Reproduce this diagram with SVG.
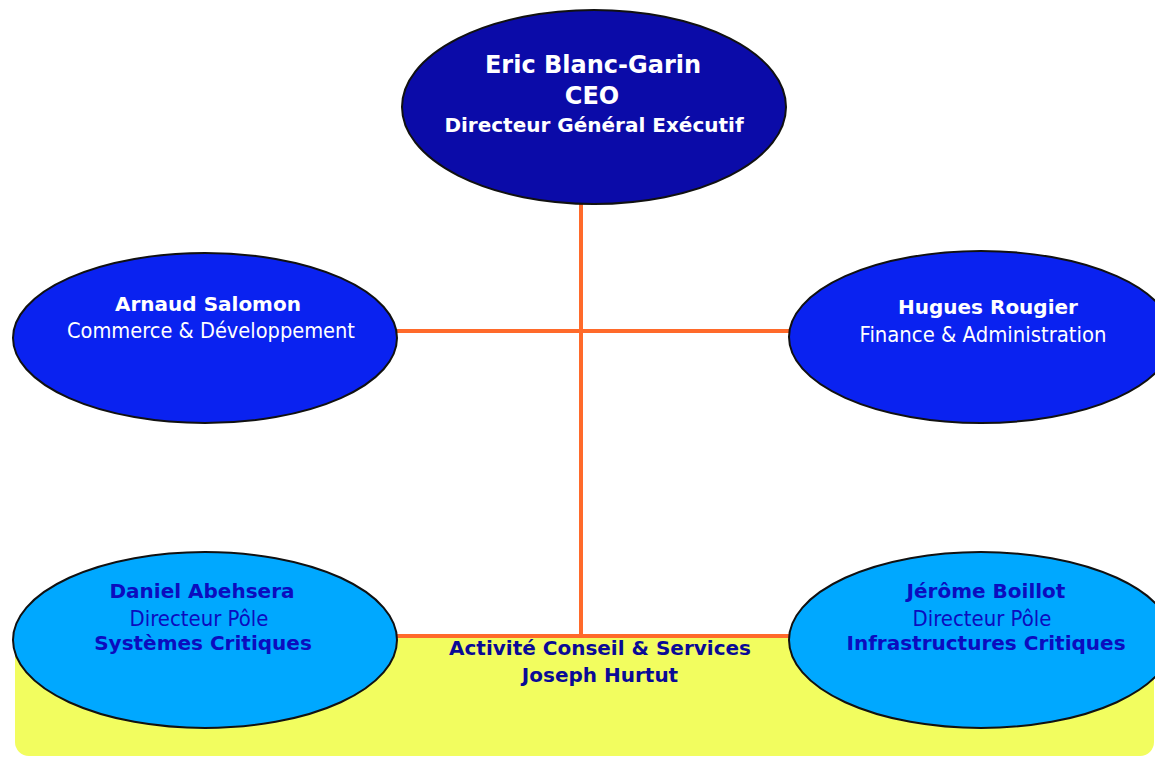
<svg xmlns="http://www.w3.org/2000/svg" width="1155" height="758" viewBox="0 0 1155 758">
<style>
.node{stroke:#111;stroke-width:2}
.conn{stroke:#FF6A2A;stroke-width:4;fill:none}
text{font-family:"DejaVu Sans",Verdana,sans-serif;text-anchor:middle}
.b{font-weight:bold}
.w{fill:#fff}
.dk{fill:#0c0cbe}
.yl{fill:#0a0a96}
</style>
<rect width="1155" height="758" fill="#fff"/>
<g id="pole-conseil">
<rect x="15" y="636" width="1139" height="120" rx="14" fill="#F2FD5F"/>
</g>
<g id="connectors">
<line class="conn" x1="581" y1="200" x2="581" y2="637"/>
<line class="conn" x1="395" y1="331" x2="790" y2="331"/>
<line class="conn" x1="395" y1="636" x2="790" y2="636"/>
</g>
<g id="ceo">
<ellipse class="node" cx="594" cy="107" rx="192" ry="97" fill="#0B0BA8"/>
<text class="b w" x="593" y="73" font-size="24">Eric Blanc-Garin</text>
<text class="b w" x="592" y="104" font-size="24">CEO</text>
<text class="b w" x="594" y="132" font-size="20">Directeur Général Exécutif</text>
</g>
<g id="commerce">
<ellipse class="node" cx="205" cy="338" rx="192" ry="85" fill="#0A22F0"/>
<text class="b w" x="208" y="311" font-size="20">Arnaud Salomon</text>
<text class="w" x="211" y="338" font-size="21" textLength="288" lengthAdjust="spacingAndGlyphs">Commerce &amp; Développement</text>
</g>
<g id="finance">
<ellipse class="node" cx="981" cy="337" rx="192" ry="86" fill="#0A22F0"/>
<text class="b w" x="988" y="314" font-size="20">Hugues Rougier</text>
<text class="w" x="983" y="342" font-size="21" textLength="247" lengthAdjust="spacingAndGlyphs">Finance &amp; Administration</text>
</g>
<g id="systemes">
<ellipse class="node" cx="205" cy="640" rx="192" ry="88" fill="#00A8FF"/>
<text class="b dk" x="202" y="598" font-size="20">Daniel Abehsera</text>
<text class="dk" x="199" y="626" font-size="21" textLength="139" lengthAdjust="spacingAndGlyphs">Directeur Pôle</text>
<text class="b dk" x="203" y="650" font-size="20">Systèmes Critiques</text>
</g>
<g id="infrastructures">
<ellipse class="node" cx="981" cy="640" rx="192" ry="88" fill="#00A8FF"/>
<text class="b dk" x="986" y="598" font-size="20">Jérôme Boillot</text>
<text class="dk" x="982" y="626" font-size="21" textLength="139" lengthAdjust="spacingAndGlyphs">Directeur Pôle</text>
<text class="b dk" x="986" y="650" font-size="20">Infrastructures Critiques</text>
</g>
<g id="conseil-label">
<text class="b yl" x="600" y="655" font-size="20">Activité Conseil &amp; Services</text>
<text class="b yl" x="600" y="682" font-size="20">Joseph Hurtut</text>
</g>
</svg>
